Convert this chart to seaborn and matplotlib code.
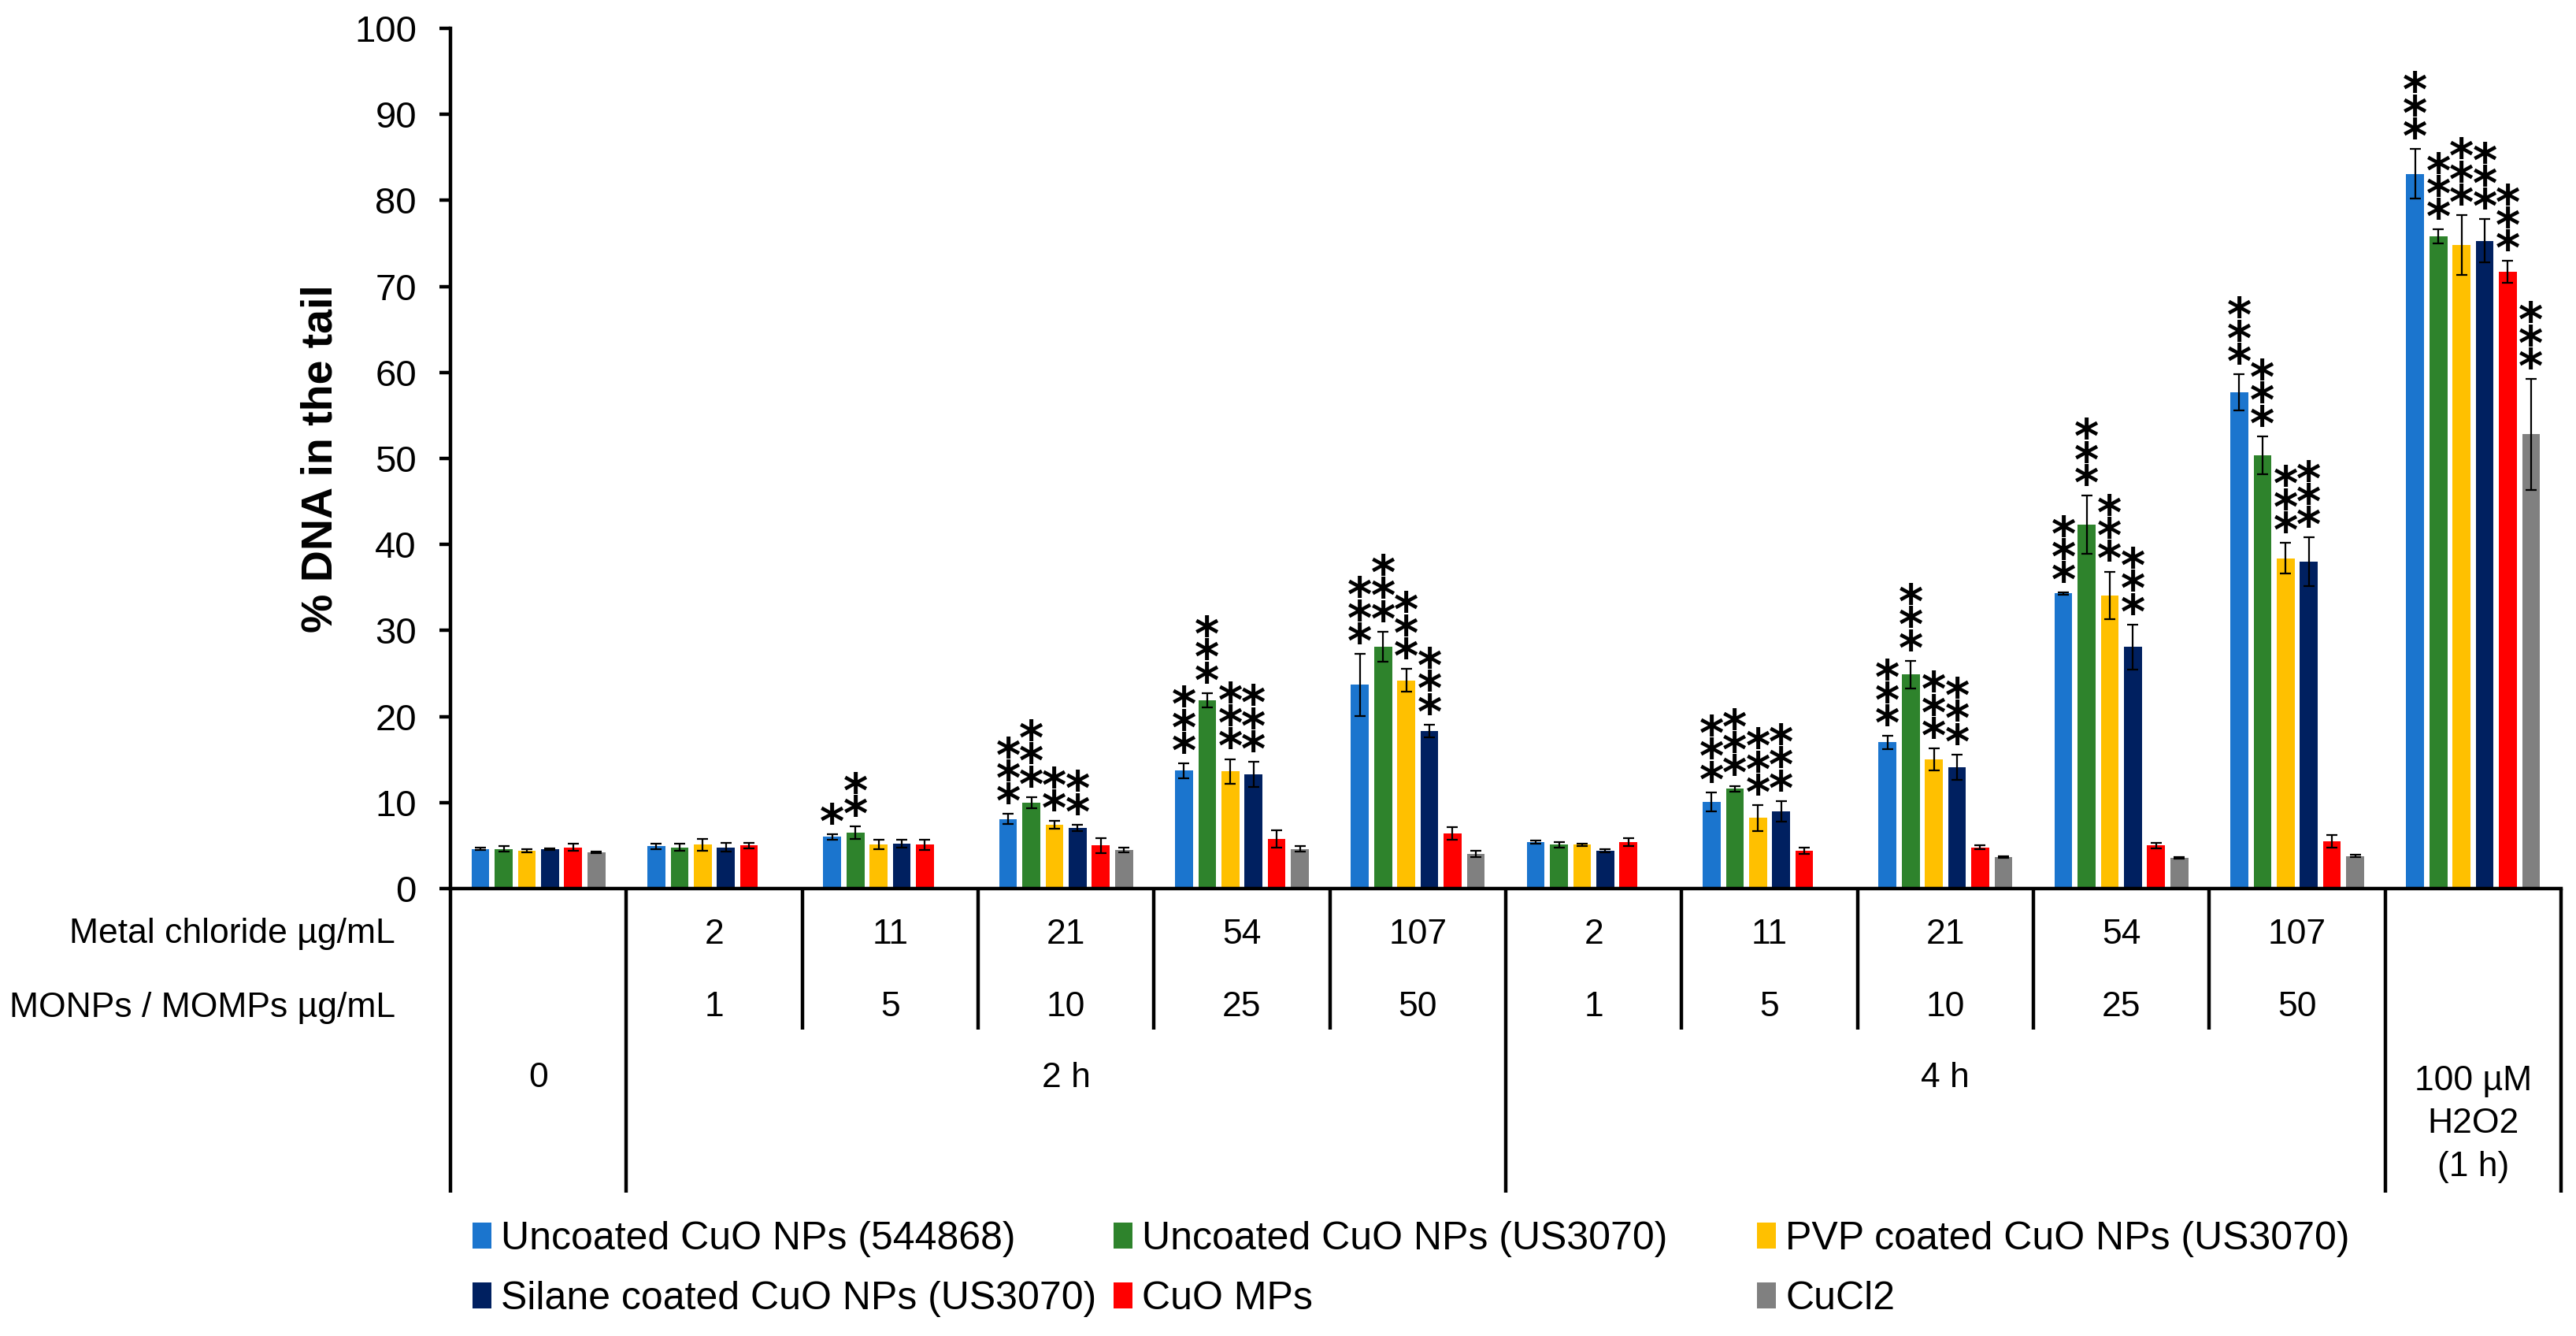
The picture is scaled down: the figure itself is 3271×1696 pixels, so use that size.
"""Comet assay bar chart: % DNA in the tail for CuO NPs / MPs and CuCl2.

Grouped bars with SD error bars, significance stars and an Excel-style
category table under the x axis.
"""

import matplotlib

matplotlib.use("Agg")

import matplotlib.pyplot as plt
import matplotlib.transforms as mtransforms
import numpy as np
import pandas as pd
import seaborn as sns
from matplotlib.colors import to_rgba
from matplotlib.font_manager import FontProperties
from matplotlib.patches import Patch
from matplotlib.textpath import TextPath

# -----------------------------------------------------------------------------
# Data
# -----------------------------------------------------------------------------

conditions = ["0", "2h-2", "2h-11", "2h-21", "2h-54", "2h-107",
              "4h-2", "4h-11", "4h-21", "4h-54", "4h-107", "H2O2"]

series_names = [
    "Uncoated CuO NPs (544868)",
    "Uncoated CuO NPs (US3070)",
    "PVP coated CuO NPs (US3070)",
    "Silane coated CuO NPs (US3070)",
    "CuO MPs",
    "CuCl2",
]
series_colors = ["#1B75CE", "#2E832C", "#FFC000", "#002060", "#FF0000", "#808080"]

nan = np.nan
uncoated_544868 = [4.6, 4.9, 6.0, 8.1, 13.7, 23.7, 5.4, 10.1, 17.0, 34.3, 57.7, 83.1]
uncoated_544868_sd = [0.15, 0.3, 0.3, 0.58, 0.87, 3.6, 0.2, 1.1, 0.75, 0.1, 2.1, 2.9]
uncoated_us3070 = [4.6, 4.8, 6.5, 10.0, 21.9, 28.1, 5.1, 11.6, 24.9, 42.3, 50.4, 75.8]
uncoated_us3070_sd = [0.3, 0.4, 0.7, 0.64, 0.84, 1.77, 0.3, 0.35, 1.6, 3.4, 2.2, 0.82]
pvp_coated = [4.4, 5.1, 5.1, 7.4, 13.6, 24.2, 5.1, 8.2, 15.0, 34.1, 38.4, 74.8]
pvp_coated_sd = [0.15, 0.7, 0.55, 0.46, 1.46, 1.34, 0.15, 1.5, 1.3, 2.75, 1.8, 3.5]
silane_coated = [4.6, 4.8, 5.2, 7.05, 13.3, 18.3, 4.4, 9.0, 14.1, 28.1, 38.0, 75.3]
silane_coated_sd = [0.1, 0.5, 0.45, 0.4, 1.45, 0.76, 0.15, 1.2, 1.5, 2.6, 2.8, 2.5]
cuo_mps = [4.8, 5.0, 5.1, 5.0, 5.8, 6.4, 5.4, 4.4, 4.8, 5.0, 5.5, 71.7]
cuo_mps_sd = [0.4, 0.3, 0.58, 0.9, 1.0, 0.7, 0.5, 0.35, 0.25, 0.3, 0.7, 1.27]
cucl2 = [4.2, nan, nan, 4.5, 4.6, 4.0, nan, nan, 3.7, 3.6, 3.8, 52.8]
cucl2_sd = [0.1, nan, nan, 0.27, 0.3, 0.35, nan, nan, 0.1, 0.1, 0.1, 6.45]

uncoated_544868_stars = ["", "", "*", "***", "***", "***", "", "***", "***", "***", "***", "***"]
uncoated_us3070_stars = ["", "", "**", "***", "***", "***", "", "***", "***", "***", "***", "***"]
pvp_coated_stars = ["", "", "", "**", "***", "***", "", "***", "***", "***", "***", "***"]
silane_coated_stars = ["", "", "", "**", "***", "***", "", "***", "***", "***", "***", "***"]
cuo_mps_stars = ["", "", "", "", "", "", "", "", "", "", "", "***"]
cucl2_stars = ["", "", "", "", "", "", "", "", "", "", "", "***"]

metal_chloride_ugml = ["", "2", "11", "21", "54", "107", "2", "11", "21", "54", "107", ""]
monps_ugml = ["", "1", "5", "10", "25", "50", "1", "5", "10", "25", "50", ""]
time_groups = [("0", 0, 0), ("2 h", 1, 5), ("4 h", 6, 10), ("100 µM\nH2O2\n(1 h)", 11, 11)]
row_labels = ["Metal chloride µg/mL", "MONPs / MOMPs µg/mL"]

# -----------------------------------------------------------------------------
# Layout constants (pixels of the 3271 x 1696 target)
# -----------------------------------------------------------------------------

W, H = 3271, 1696
AX_LEFT, AX_RIGHT, AX_TOP, AX_BOTTOM = 572, 3252, 36, 1128
LINE_W = 3.2


def to_axes_y(py: float) -> float:
    return (AX_BOTTOM - py) / (AX_BOTTOM - AX_TOP)


def to_axes_x(px: float) -> float:
    return (px - AX_LEFT) / (AX_RIGHT - AX_LEFT)


def main() -> None:
    sns.set_theme(style="ticks")
    plt.rcParams["font.family"] = ["Liberation Sans", "DejaVu Sans"]

    values = [uncoated_544868, uncoated_us3070, pvp_coated, silane_coated, cuo_mps, cucl2]
    errors = [uncoated_544868_sd, uncoated_us3070_sd, pvp_coated_sd, silane_coated_sd, cuo_mps_sd, cucl2_sd]
    stars = [uncoated_544868_stars, uncoated_us3070_stars, pvp_coated_stars,
             silane_coated_stars, cuo_mps_stars, cucl2_stars]

    df = pd.DataFrame(
        [
            {"condition": c, "series": s, "value": v}
            for s, vals in zip(series_names, values)
            for c, v in zip(conditions, vals)
        ]
    ).dropna()

    fig = plt.figure(figsize=(W / 100, H / 100), dpi=100)
    ax = fig.add_axes([AX_LEFT / W, 1 - AX_BOTTOM / H, (AX_RIGHT - AX_LEFT) / W, (AX_BOTTOM - AX_TOP) / H])

    sns.barplot(
        data=df, x="condition", y="value", hue="series",
        order=conditions, hue_order=series_names, palette=series_colors,
        saturation=1, width=0.79, gap=0.23, errorbar=None, legend=False,
        linewidth=0, ax=ax,
    )

    # significance stars: one stacked text per bar, the lowest star sits a
    # fixed gap above the error bar cap; line pitch ~20.5 pt
    star_fs = 43
    star_family = "DejaVu Sans"
    fp = FontProperties(family=star_family, weight="bold", size=star_fs)
    star_ext = TextPath((0, 0), "*", size=star_fs, prop=fp).get_extents()
    p_desc = -TextPath((0, 0), "p", size=star_fs, prop=fp).get_extents().y0
    l_top = max(TextPath((0, 0), "l", size=star_fs, prop=fp).get_extents().y1, star_ext.y1)
    star_ls = (20.5 - p_desc) / l_top
    star_dy = 8 - (p_desc + star_ext.y0)

    color_index = {tuple(np.round(to_rgba(c), 3)): k for k, c in enumerate(series_colors)}
    for bar in ax.patches:
        h = bar.get_height()
        if not np.isfinite(h):
            continue
        k = color_index.get(tuple(np.round(bar.get_facecolor(), 3)))
        if k is None:
            continue
        cx = bar.get_x() + bar.get_width() / 2
        i = int(round(cx))
        err = errors[k][i]
        ax.errorbar(cx, h, yerr=err, fmt="none", ecolor="black", elinewidth=1.6,
                    capsize=5, capthick=1.6, zorder=4)
        if stars[k][i]:
            ax.annotate("\n".join(stars[k][i]), xy=(cx, h + err), xytext=(0, star_dy),
                        textcoords="offset points", ha="center", va="bottom",
                        fontsize=star_fs, fontweight="bold", linespacing=star_ls,
                        color="black", family=star_family, annotation_clip=False)

    ax.set_xlim(-0.5, len(conditions) - 0.5)
    ax.set_ylim(0, 100)
    ax.set_yticks(range(0, 101, 10))
    ax.set_xticks([])
    ax.set_xlabel("")
    ax.set_ylabel("% DNA in the tail", fontsize=40, fontweight="bold", color="black")
    ax.yaxis.set_label_coords(-0.0515, 0.5)
    ax.tick_params(axis="y", direction="out", length=10, width=LINE_W, labelsize=34,
                   pad=21, color="black", labelcolor="black")
    for side in ("top", "right"):
        ax.spines[side].set_visible(False)
    for side in ("left", "bottom"):
        ax.spines[side].set_linewidth(LINE_W)
        ax.spines[side].set_color("black")

    # category table below the axis
    trans = mtransforms.blended_transform_factory(ax.transData, ax.transAxes)
    y_short, y_full = to_axes_y(1307), to_axes_y(1514)
    full_edges = set()
    for _, start, end in time_groups:
        full_edges.update([start - 0.5, end + 0.5])
    for b in np.arange(-0.5, len(conditions), 1.0):
        y_end = y_full if b in full_edges else y_short
        ax.plot([b, b], [0, y_end], transform=trans, color="black", lw=LINE_W,
                clip_on=False, solid_capstyle="butt")

    text_kw = dict(transform=trans, fontsize=32, color="black", ha="center", va="center")
    for i, (mc, mo) in enumerate(zip(metal_chloride_ugml, monps_ugml)):
        ax.text(i, to_axes_y(1186), mc, **text_kw)
        ax.text(i, to_axes_y(1279), mo, **text_kw)
    for label, start, end in time_groups:
        y = to_axes_y(1427) if "\n" in label else to_axes_y(1368)
        ax.text((start + end) / 2, y, label, linespacing=1.42, **text_kw)

    for label, py in zip(row_labels, (1186, 1279)):
        ax.text(to_axes_x(502), to_axes_y(py), label, transform=ax.transAxes,
                fontsize=32, color="black", ha="right", va="center")

    # legend: three columns at fixed x positions, filled row-wise
    handles = [Patch(facecolor=c, edgecolor="none", label=n) for n, c in zip(series_names, series_colors)]
    for col, px in enumerate((600, 1414, 2231)):
        fig.legend(
            handles=[handles[col], handles[col + 3]],
            loc="center left", bbox_to_anchor=(px / W, 1 - 1611 / H),
            frameon=False, fontsize=36, borderpad=0, borderaxespad=0,
            handlelength=0.48, handleheight=0.66, handletextpad=0.24,
            labelspacing=0.6, labelcolor="black",
        )

    fig.savefig("out.png", dpi=100, facecolor="white")


if __name__ == "__main__":
    main()
